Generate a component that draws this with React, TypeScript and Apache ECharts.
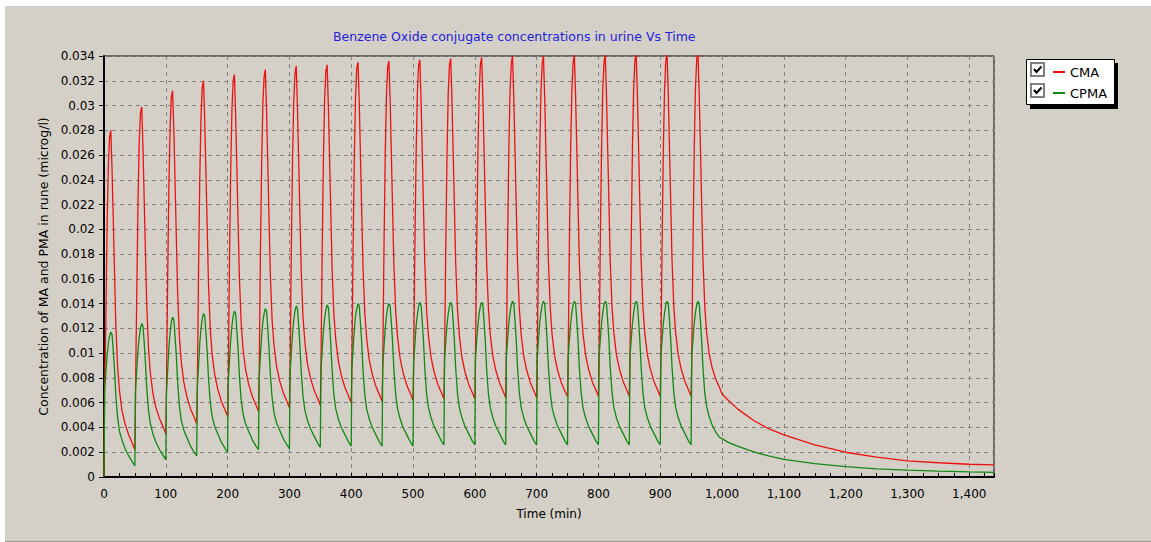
import React, { useEffect, useRef } from "react";
import * as echarts from "echarts";

const chartTitle = "Benzene Oxide conjugate concentrations in urine Vs Time";
const xAxisTitle = "Time (min)";
const yAxisTitle = "Concentration of MA and PMA in rune (microg/l)";
const seriesNames = ["CMA", "CPMA"];

// dose cycle start times (min) and sample offsets inside each cycle (min)
const cycleStartMin = [0, 50, 100, 150, 200, 250, 300, 350, 400, 450, 500, 550, 600, 650, 700, 750, 800, 850, 900, 950];
const cycleOffsetMin = [0, 1, 3, 5, 7, 9, 11, 13, 15, 17, 19, 22, 25, 29, 34, 40, 46];

const cmaCycles = [
  [0, 0.0070, 0.0126, 0.0202, 0.0252, 0.0274, 0.0280, 0.0249, 0.0208, 0.0166, 0.0125, 0.0089, 0.0070, 0.0054, 0.0043, 0.0034, 0.0027],
  [0.0022, 0.0070, 0.0147, 0.0221, 0.0271, 0.0294, 0.0299, 0.0267, 0.0225, 0.0183, 0.0141, 0.0104, 0.0084, 0.0068, 0.0056, 0.0047, 0.0040],
  [0.0035, 0.0068, 0.0160, 0.0234, 0.0284, 0.0307, 0.0312, 0.0280, 0.0237, 0.0194, 0.0151, 0.0113, 0.0093, 0.0077, 0.0065, 0.0055, 0.0048],
  [0.0043, 0.0072, 0.0168, 0.0242, 0.0292, 0.0315, 0.0320, 0.0287, 0.0244, 0.0201, 0.0157, 0.0119, 0.0099, 0.0083, 0.0071, 0.0061, 0.0054],
  [0.0049, 0.0076, 0.0173, 0.0248, 0.0297, 0.0320, 0.0325, 0.0292, 0.0249, 0.0205, 0.0162, 0.0124, 0.0103, 0.0087, 0.0075, 0.0065, 0.0058],
  [0.0053, 0.0080, 0.0177, 0.0252, 0.0301, 0.0323, 0.0329, 0.0296, 0.0253, 0.0209, 0.0165, 0.0127, 0.0107, 0.0090, 0.0078, 0.0068, 0.0061],
  [0.0056, 0.0083, 0.0180, 0.0255, 0.0304, 0.0326, 0.0332, 0.0299, 0.0255, 0.0211, 0.0168, 0.0129, 0.0109, 0.0092, 0.0080, 0.0070, 0.0063],
  [0.0058, 0.0086, 0.0182, 0.0256, 0.0306, 0.0328, 0.0333, 0.0300, 0.0257, 0.0213, 0.0169, 0.0131, 0.0111, 0.0094, 0.0082, 0.0072, 0.0065],
  [0.0060, 0.0088, 0.0184, 0.0258, 0.0308, 0.0330, 0.0335, 0.0302, 0.0258, 0.0214, 0.0171, 0.0132, 0.0112, 0.0095, 0.0083, 0.0073, 0.0066],
  [0.0061, 0.0090, 0.0185, 0.0259, 0.0309, 0.0331, 0.0336, 0.0303, 0.0259, 0.0215, 0.0172, 0.0133, 0.0113, 0.0096, 0.0084, 0.0074, 0.0067],
  [0.0062, 0.0093, 0.0186, 0.0260, 0.0310, 0.0332, 0.0337, 0.0304, 0.0260, 0.0216, 0.0173, 0.0134, 0.0114, 0.0097, 0.0085, 0.0075, 0.0068],
  [0.0063, 0.0095, 0.0187, 0.0261, 0.0311, 0.0333, 0.0338, 0.0305, 0.0261, 0.0217, 0.0173, 0.0135, 0.0114, 0.0097, 0.0085, 0.0075, 0.0068],
  [0.0063, 0.0096, 0.0187, 0.0262, 0.0311, 0.0333, 0.0339, 0.0306, 0.0262, 0.0218, 0.0174, 0.0136, 0.0115, 0.0098, 0.0086, 0.0076, 0.0069],
  [0.0064, 0.0097, 0.0188, 0.0263, 0.0312, 0.0334, 0.0340, 0.0307, 0.0263, 0.0219, 0.0174, 0.0136, 0.0115, 0.0098, 0.0086, 0.0076, 0.0069],
  [0.0064, 0.0097, 0.0188, 0.0263, 0.0312, 0.0334, 0.0340, 0.0307, 0.0263, 0.0219, 0.0175, 0.0137, 0.0115, 0.0098, 0.0086, 0.0076, 0.0069],
  [0.0065, 0.0097, 0.0189, 0.0264, 0.0313, 0.0335, 0.0341, 0.0308, 0.0264, 0.0220, 0.0175, 0.0137, 0.0116, 0.0099, 0.0087, 0.0077, 0.0070],
  [0.0065, 0.0097, 0.0189, 0.0264, 0.0313, 0.0335, 0.0341, 0.0308, 0.0264, 0.0220, 0.0175, 0.0137, 0.0116, 0.0099, 0.0087, 0.0077, 0.0070],
  [0.0065, 0.0097, 0.0189, 0.0265, 0.0314, 0.0336, 0.0342, 0.0309, 0.0265, 0.0220, 0.0176, 0.0137, 0.0116, 0.0099, 0.0087, 0.0077, 0.0070],
  [0.0065, 0.0097, 0.0189, 0.0265, 0.0314, 0.0336, 0.0342, 0.0309, 0.0265, 0.0220, 0.0176, 0.0137, 0.0116, 0.0099, 0.0087, 0.0077, 0.0070],
  [0.0065, 0.0098, 0.0190, 0.0265, 0.0315, 0.0337, 0.0343, 0.0310, 0.0266, 0.0221, 0.0177, 0.0138, 0.0117, 0.0100, 0.0088, 0.0079, 0.0072],
];

const cpmaCycles = [
  [0, 0.0070, 0.0084, 0.0098, 0.0108, 0.0114, 0.0117, 0.0115, 0.0102, 0.0087, 0.0067, 0.0048, 0.0037, 0.0030, 0.0023, 0.0017, 0.0012],
  [0.0009, 0.0070, 0.0086, 0.0102, 0.0113, 0.0120, 0.0124, 0.0122, 0.0109, 0.0093, 0.0073, 0.0054, 0.0043, 0.0035, 0.0028, 0.0022, 0.0017],
  [0.0014, 0.0068, 0.0086, 0.0105, 0.0117, 0.0125, 0.0129, 0.0127, 0.0113, 0.0098, 0.0078, 0.0057, 0.0046, 0.0038, 0.0032, 0.0025, 0.0020],
  [0.0017, 0.0072, 0.0090, 0.0108, 0.0120, 0.0128, 0.0132, 0.0130, 0.0116, 0.0101, 0.0080, 0.0060, 0.0049, 0.0041, 0.0035, 0.0028, 0.0023],
  [0.0020, 0.0076, 0.0093, 0.0111, 0.0122, 0.0130, 0.0134, 0.0132, 0.0118, 0.0103, 0.0082, 0.0062, 0.0051, 0.0043, 0.0037, 0.0030, 0.0025],
  [0.0022, 0.0080, 0.0097, 0.0114, 0.0125, 0.0132, 0.0136, 0.0134, 0.0120, 0.0104, 0.0084, 0.0064, 0.0052, 0.0044, 0.0038, 0.0031, 0.0026],
  [0.0023, 0.0083, 0.0100, 0.0116, 0.0127, 0.0134, 0.0138, 0.0136, 0.0122, 0.0106, 0.0086, 0.0065, 0.0054, 0.0046, 0.0039, 0.0033, 0.0027],
  [0.0024, 0.0086, 0.0102, 0.0118, 0.0128, 0.0135, 0.0139, 0.0137, 0.0123, 0.0107, 0.0087, 0.0066, 0.0055, 0.0047, 0.0040, 0.0034, 0.0028],
  [0.0025, 0.0088, 0.0104, 0.0119, 0.0130, 0.0136, 0.0140, 0.0138, 0.0124, 0.0108, 0.0087, 0.0066, 0.0055, 0.0047, 0.0040, 0.0034, 0.0028],
  [0.0025, 0.0090, 0.0105, 0.0120, 0.0130, 0.0137, 0.0140, 0.0138, 0.0124, 0.0108, 0.0087, 0.0066, 0.0055, 0.0047, 0.0040, 0.0034, 0.0028],
  [0.0025, 0.0093, 0.0107, 0.0122, 0.0131, 0.0138, 0.0141, 0.0139, 0.0125, 0.0109, 0.0088, 0.0067, 0.0056, 0.0048, 0.0041, 0.0035, 0.0029],
  [0.0026, 0.0095, 0.0109, 0.0123, 0.0132, 0.0138, 0.0141, 0.0139, 0.0125, 0.0109, 0.0088, 0.0067, 0.0056, 0.0048, 0.0041, 0.0035, 0.0029],
  [0.0026, 0.0096, 0.0110, 0.0123, 0.0132, 0.0138, 0.0141, 0.0139, 0.0125, 0.0109, 0.0088, 0.0067, 0.0056, 0.0048, 0.0041, 0.0035, 0.0029],
  [0.0026, 0.0097, 0.0111, 0.0124, 0.0133, 0.0139, 0.0142, 0.0140, 0.0126, 0.0110, 0.0089, 0.0068, 0.0056, 0.0048, 0.0041, 0.0035, 0.0029],
  [0.0026, 0.0097, 0.0111, 0.0124, 0.0133, 0.0139, 0.0142, 0.0140, 0.0126, 0.0110, 0.0089, 0.0068, 0.0056, 0.0048, 0.0041, 0.0035, 0.0029],
  [0.0026, 0.0097, 0.0111, 0.0124, 0.0133, 0.0139, 0.0142, 0.0140, 0.0126, 0.0110, 0.0089, 0.0068, 0.0056, 0.0048, 0.0041, 0.0035, 0.0029],
  [0.0026, 0.0097, 0.0111, 0.0124, 0.0133, 0.0139, 0.0142, 0.0140, 0.0126, 0.0110, 0.0089, 0.0068, 0.0056, 0.0048, 0.0041, 0.0035, 0.0029],
  [0.0026, 0.0097, 0.0111, 0.0124, 0.0133, 0.0139, 0.0142, 0.0140, 0.0126, 0.0110, 0.0089, 0.0068, 0.0056, 0.0048, 0.0041, 0.0035, 0.0029],
  [0.0026, 0.0097, 0.0111, 0.0124, 0.0133, 0.0139, 0.0142, 0.0140, 0.0126, 0.0110, 0.0089, 0.0068, 0.0056, 0.0048, 0.0041, 0.0035, 0.0029],
  [0.0026, 0.0098, 0.0111, 0.0124, 0.0133, 0.0139, 0.0142, 0.0140, 0.0126, 0.0110, 0.0089, 0.0068, 0.0057, 0.0049, 0.0042, 0.0036, 0.0032],
];

// wash-out after the last dose
const tailTimeMin = [1000, 1010, 1025, 1050, 1075, 1100, 1150, 1200, 1250, 1300, 1350, 1400, 1440];
const cmaTail = [0.0067, 0.0062, 0.0055, 0.0046, 0.0039, 0.0034, 0.0026, 0.0020, 0.0016, 0.0013, 0.00115, 0.00103, 0.00098];
const cpmaTail = [0.0031, 0.0028, 0.0025, 0.00205, 0.0017, 0.00143, 0.00108, 0.00083, 0.00066, 0.00055, 0.00047, 0.00041, 0.00038];

const FONT = "'DejaVu Sans', Verdana, sans-serif";

function buildSeries(cycles: number[][], tailT: number[], tailV: number[]) {
  const pts: [number, number][] = [];
  cycles.forEach((row, k) => {
    row.forEach((v, i) => pts.push([cycleStartMin[k] + cycleOffsetMin[i], v]));
  });
  tailT.forEach((t, i) => pts.push([t, tailV[i]]));
  return pts;
}

function fmtThousands(v: number) {
  const s = String(Math.round(v));
  return s.replace(/\B(?=(\d{3})+(?!\d))/g, ",");
}

export default function App() {
  const ref = useRef<HTMLDivElement>(null);
  useEffect(() => {
    document.body.style.margin = "0";
    if (!ref.current) return;
    const chart = echarts.init(ref.current, undefined, { renderer: "svg" });
    const checkbox = (y: number) => [
      {
        type: "rect",
        shape: { x: 1031, y, width: 13, height: 13 },
        style: { fill: "#ffffff", stroke: "#808080", lineWidth: 2 },
        z: 10,
      },
      {
        type: "polyline",
        shape: { points: [[1034, y + 6], [1036.5, y + 9], [1041.5, y + 3.5]] },
        style: { stroke: "#000000", lineWidth: 2, fill: "none" },
        z: 11,
      },
    ];
    const option: any = {
      animation: false,
      backgroundColor: "#d4d0c8",
      textStyle: { fontFamily: FONT },
      title: {
        text: chartTitle,
        left: 333,
        top: 30,
        padding: 0,
        textStyle: { color: "#2222dd", fontSize: 12.5, fontWeight: "normal", fontFamily: FONT },
      },
      legend: {
        orient: "vertical",
        left: 1053,
        top: 65,
        itemWidth: 12,
        itemHeight: 2,
        itemGap: 7,
        icon: "rect",
        selectedMode: false,
        padding: 0,
        z: 20,
        textStyle: { fontSize: 13, color: "#000", lineHeight: 14, fontFamily: FONT },
        data: seriesNames,
      },
      grid: {
        left: 104,
        right: 157,
        top: 56,
        bottom: 65,
        show: true,
        borderColor: "#000",
        borderWidth: 1,
        backgroundColor: "transparent",
      },
      xAxis: {
        type: "value",
        min: 0,
        max: 1440,
        interval: 100,
        name: xAxisTitle,
        nameLocation: "middle",
        nameGap: 31,
        nameTextStyle: { fontSize: 12, color: "#000", fontFamily: FONT },
        axisLine: { lineStyle: { color: "#000", width: 2 } },
        axisTick: { show: true, inside: true, length: 4, lineStyle: { color: "#000" } },
        minorTick: { show: true, splitNumber: 4, length: 4, lineStyle: { color: "#000" } },
        splitLine: { show: true, lineStyle: { color: "#808080", type: [4, 4], width: 1 } },
        axisLabel: {
          margin: 11,
          color: "#000",
          fontSize: 12,
          fontFamily: FONT,
          formatter: (v: number) => (v > 1400 ? "" : fmtThousands(v)),
        },
      },
      yAxis: {
        type: "value",
        min: 0,
        max: 0.034,
        interval: 0.002,
        name: yAxisTitle,
        nameLocation: "middle",
        nameRotate: 90,
        nameGap: 49,
        nameTextStyle: { fontSize: 12.5, color: "#000", fontFamily: FONT },
        axisLine: { show: true, lineStyle: { color: "#000", width: 2 } },
        axisTick: { show: true, inside: false, length: 5, lineStyle: { color: "#000" } },
        splitLine: { show: true, lineStyle: { color: "#808080", type: [4, 4], width: 1 } },
        axisLabel: {
          margin: 9,
          color: "#000",
          fontSize: 12,
          fontFamily: FONT,
          formatter: (v: number) => String(+v.toFixed(4)),
        },
      },
      graphic: [
        { type: "rect", shape: { x: 0, y: 0, width: 1151, height: 6 }, style: { fill: "#ffffff" }, z: 1 },
        { type: "rect", shape: { x: 0, y: 0, width: 5, height: 542 }, style: { fill: "#ffffff" }, z: 1 },
        { type: "line", shape: { x1: 5, y1: 541.5, x2: 1151, y2: 541.5 }, style: { stroke: "#9c9a94", lineWidth: 1 }, z: 1 },
        { type: "rect", shape: { x: 1030, y: 63, width: 88, height: 46 }, style: { fill: "#000000" }, z: 8 },
        { type: "rect", shape: { x: 1026.5, y: 59.5, width: 88, height: 45 }, style: { fill: "#ffffff", stroke: "#000000", lineWidth: 1 }, z: 9 },
        ...checkbox(63),
        ...checkbox(84),
      ],
      series: [
        {
          name: seriesNames[0],
          type: "line",
          showSymbol: false,
          data: buildSeries(cmaCycles, tailTimeMin, cmaTail),
          lineStyle: { color: "#ee1111", width: 1.3 },
          itemStyle: { color: "#ee1111" },
          z: 3,
        },
        {
          name: seriesNames[1],
          type: "line",
          showSymbol: false,
          data: buildSeries(cpmaCycles, tailTimeMin, cpmaTail),
          lineStyle: { color: "#118811", width: 1.3 },
          itemStyle: { color: "#118811" },
          z: 4,
        },
      ],
    };
    chart.setOption(option);
    return () => chart.dispose();
  }, []);
  return <div ref={ref} style={{ width: 1151, height: 542 }} />;
}
